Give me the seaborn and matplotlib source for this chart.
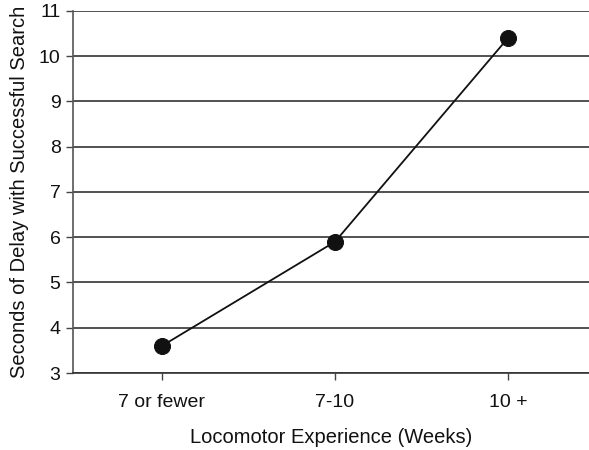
import numpy as np
import pandas as pd
import seaborn as sns
import matplotlib.pyplot as plt

# Data
groups = ["7 or fewer", "7-10", "10 +"]
delay_seconds = [3.6, 5.9, 10.4]

df = pd.DataFrame({"group": groups, "delay": delay_seconds})

sns.set_style("white")
plt.rcParams['font.family'] = ['Liberation Sans', 'DejaVu Sans']

fig = plt.figure(figsize=(5.89, 4.50), dpi=100)
ax = fig.add_axes([0.124, 0.171, 0.876, 0.805])

sns.lineplot(data=df, x="group", y="delay", ax=ax, color="#111111",
             linewidth=1.3, marker="o", markersize=11.5,
             markeredgecolor="#111111", markerfacecolor="#111111", sort=False)

ax.set_ylim(3, 11)
ax.set_xlim(-0.514, 2.468)
ax.set_yticks(range(3, 12))
ax.yaxis.grid(True, color="#222222", linewidth=1.1)
ax.set_axisbelow(True)

for s in ["top", "right"]:
    ax.spines[s].set_visible(False)
ax.spines["left"].set_color("#555555")
ax.spines["bottom"].set_color("#333333")
ax.spines["left"].set_linewidth(1.2)
ax.spines["bottom"].set_linewidth(1.2)

ax.tick_params(axis="both", which="major", direction="out", length=5,
               width=1, color="#444444", labelsize=14, labelcolor="#111111",
               bottom=True, left=True)
ax.tick_params(axis="x", pad=10)
ax.tick_params(axis="y", pad=4)

ax.set_xlabel("Locomotor Experience (Weeks)", fontsize=14.5, color="#111111", labelpad=12)
ax.set_ylabel("Seconds of Delay with Successful Search", fontsize=14.5, color="#111111", labelpad=7)

fig.savefig("out.png", dpi=100)
